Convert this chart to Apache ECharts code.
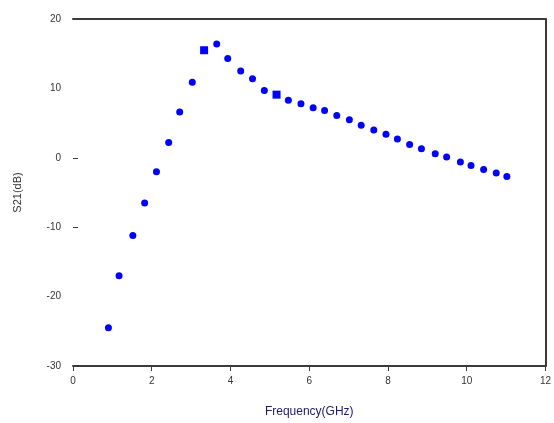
<!DOCTYPE html>
<html>
<head>
<meta charset="utf-8">
<script src="https://cdn.jsdelivr.net/npm/echarts@6/dist/echarts.min.js"></script>
<style>
  html, body { margin: 0; padding: 0; background: #fff; }
  #chart { width: 554px; height: 423px; }
</style>
</head>
<body>
<div id="chart"></div>
<script>
// frequency (GHz) and S21 (dB)
const freq = [0.90, 1.17, 1.52, 1.82, 2.12, 2.43, 2.71, 3.03, 3.33, 3.65, 3.93, 4.26,
  4.56, 4.86, 5.17, 5.47, 5.79, 6.10, 6.39, 6.70, 7.02, 7.32, 7.64, 7.95, 8.24,
  8.55, 8.85, 9.20, 9.49, 9.84, 10.11, 10.43, 10.75, 11.02];
const s21 = [-24.5, -17.0, -11.2, -6.5, -2.0, 2.2, 6.6, 10.9, 15.5, 16.4, 14.3, 12.5,
  11.4, 9.7, 9.1, 8.3, 7.8, 7.2, 6.8, 6.1, 5.5, 4.7, 4.0, 3.4, 2.7,
  1.9, 1.3, 0.6, 0.1, -0.6, -1.1, -1.7, -2.2, -2.7];
// points drawn as squares instead of dots
const squareIdx = [8, 14];

const xTicks = [0, 2, 4, 6, 8, 10, 12];
const yTicks = [-30, -20, -10, 0, 10, 20];

const frameColor = '#3a3a3a';
const font = 'Liberation Sans, Arial, sans-serif';

const points = freq.map((f, i) => {
  const item = { value: [f, s21[i]] };
  if (squareIdx.includes(i)) {
    item.symbol = 'rect';
    item.symbolSize = 8;
  }
  return item;
});

const chart = echarts.init(document.getElementById('chart'));
const option = {
  backgroundColor: '#fff',
  animation: false,
  grid: { left: 73, right: 5, top: 19, bottom: 57 },
  xAxis: [
    {
      type: 'value',
      min: xTicks[0],
      max: xTicks[xTicks.length - 1],
      interval: 2,
      name: 'Frequency(GHz)',
      nameLocation: 'middle',
      nameGap: 40,
      nameTextStyle: { fontFamily: font, fontSize: 12, color: '#1a1a6e' },
      axisLine: { show: true, onZero: false, lineStyle: { color: frameColor, width: 2 } },
      axisTick: { show: true, length: 5, lineStyle: { color: frameColor } },
      axisLabel: { fontFamily: font, fontSize: 10, color: '#333', margin: 10 },
      splitLine: { show: false }
    },
    {
      type: 'value',
      position: 'top',
      min: xTicks[0],
      max: xTicks[xTicks.length - 1],
      axisLine: { show: true, onZero: false, lineStyle: { color: frameColor, width: 2 } },
      axisTick: { show: false },
      axisLabel: { show: false },
      splitLine: { show: false }
    }
  ],
  yAxis: [
    {
      type: 'value',
      min: yTicks[0],
      max: yTicks[yTicks.length - 1],
      interval: 10,
      name: 'S21(dB)',
      nameLocation: 'middle',
      nameGap: 50,
      nameTextStyle: { fontFamily: font, fontSize: 11, color: '#333' },
      axisLine: { show: false, onZero: false },
      axisTick: { show: true, inside: true, length: 5, customValues: [0, -10], lineStyle: { color: frameColor } },
      axisLabel: { fontFamily: font, fontSize: 10, color: '#333', margin: 12 },
      splitLine: { show: false }
    },
    {
      type: 'value',
      position: 'right',
      min: yTicks[0],
      max: yTicks[yTicks.length - 1],
      axisLine: { show: true, onZero: false, lineStyle: { color: frameColor, width: 2 } },
      axisTick: { show: false },
      axisLabel: { show: false },
      splitLine: { show: false }
    }
  ],
  series: [
    {
      type: 'scatter',
      data: points,
      symbol: 'circle',
      symbolSize: 7,
      itemStyle: { color: '#0000ff', opacity: 1 }
    }
  ]
};
chart.setOption(option);
</script>
</body>
</html>
